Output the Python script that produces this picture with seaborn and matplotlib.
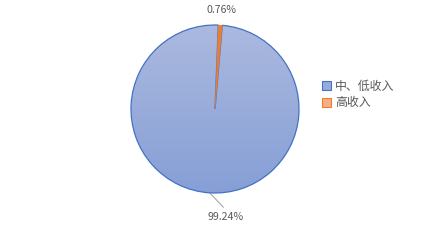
import numpy as np
import matplotlib
matplotlib.use("Agg")
import matplotlib.pyplot as plt
from matplotlib.patches import Patch
from matplotlib.colors import LinearSegmentedColormap
import seaborn as sns

categories = ["中、低收入", "高收入"]
shares = [99.24, 0.76]
labels = ["99.24%", "0.76%"]

sns.set_theme(style="white")
plt.rcParams['font.family'] = ['Noto Sans CJK SC', 'DejaVu Sans']

W, H = 430, 250
fig = plt.figure(figsize=(W / 100, H / 100), dpi=100)
ax = fig.add_axes([0, 0, 1, 1])

cx, cy, r = 215, 109, 84
blue_edge = "#4472C4"
orange_edge = "#ED7D31"

wedges, _ = ax.pie(shares, startangle=85, counterclock=False,
                   colors=["none", orange_edge], radius=1,
                   wedgeprops=dict(linewidth=0.9))
wedges[0].set_edgecolor(blue_edge)
wedges[1].set_edgecolor(orange_edge)
wedges[1].set_linewidth(0.3)
wedges[1].set_zorder(5)
wedges[0].set_zorder(4)

# gradient fill for main slice
cmap = LinearSegmentedColormap.from_list("g", ["#ABB9DF", "#869FD6"])
grad = np.linspace(0, 1, 256).reshape(-1, 1)
im = ax.imshow(grad, cmap=cmap, extent=(-1, 1, -1, 1), origin="upper",
               aspect="auto", zorder=3)
im.set_clip_path(wedges[0])

ax.set_xlim(-cx / r, (W - cx) / r)
ax.set_ylim(-(H - cy) / r, cy / r)
ax.set_aspect("auto")
ax.axis("off")

txt_color = "#595959"
# label for main slice with leader line
th0 = np.deg2rad(85 - 360 * shares[0] / 100 / 2)
ex, ey = np.cos(th0), np.sin(th0)
ax.plot([ex, 0.1], [ey, -1.17], color="#A6A6A6", lw=0.8, zorder=2)
ax.text(0.12, -1.29, labels[0], ha="center", va="center", fontsize=7.6,
        color=txt_color)
ax.text(0.08, 1.18, labels[1], ha="center", va="center", fontsize=7.6,
        color=txt_color)

handles = [Patch(facecolor="#97ABDA", edgecolor=blue_edge, linewidth=0.8),
           Patch(facecolor="#F4B183", edgecolor=orange_edge, linewidth=0.8)]
leg = fig.legend(handles, categories, loc="upper left",
                 bbox_to_anchor=(311 / W, 1 - 69 / H), frameon=False,
                 fontsize=8.6, handlelength=0.75, handleheight=0.75,
                 handletextpad=0.35, labelspacing=0.3, labelcolor=txt_color)

fig.savefig("out.png", dpi=100, facecolor="white")
